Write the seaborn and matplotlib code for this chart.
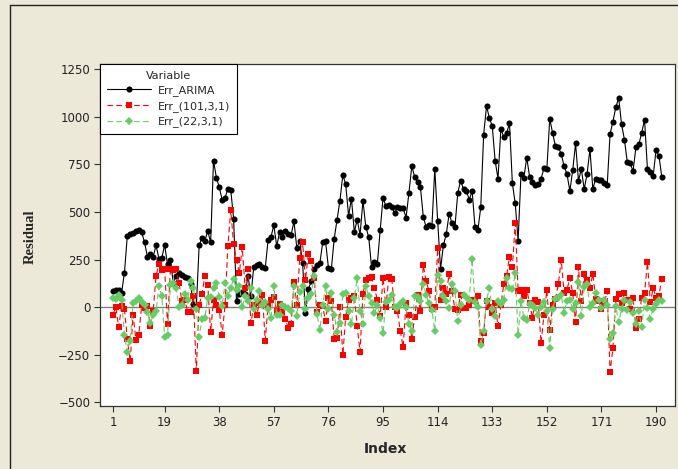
import numpy as np
import pandas as pd
import matplotlib
matplotlib.use("Agg")
import matplotlib.pyplot as plt
from matplotlib.lines import Line2D
import seaborn as sns

# residual series, index 1..192
err_arima = [
    85, 90, 90, 75, 180, 375, 385, 390, 400, 405, 395, 340, 265, 280, 265, 325,
    255, 260, 325, 225, 250, 125, 165, 180, 170, 160, 155, 120, 15, -5, 325, 365,
    350, 400, 340, 770, 680, 630, 565, 575, 620, 615, 465, 35, 70, 80, 70, 165,
    60, 210, 220, 225, 210, 205, 355, 370, 430, 320, 395, 370, 400, 385, 380, 450,
    310, 350, 230, -30, 95, 135, 200, 220, 230, 340, 345, 205, 200, 360, 460, 560,
    695, 645, 480, 570, 395, 460, 380, 560, 420, 370, 210, 235, 225, 405, 575, 530,
    535, 525, 495, 525, 520, 520, 470, 600, 740, 685, 660, 630, 475, 420, 430, 425,
    725, 455, 200, 325, 385, 490, 440, 420, 600, 665, 620, 610, 565, 610, 420, 405,
    525, 905, 1055, 995, 950, 770, 675, 935, 895, 915, 965, 650, 545, 350, 700, 680,
    785, 685, 655, 640, 645, 675, 730, 725, 990, 915, 845, 840, 805, 740, 700, 610,
    720, 860, 665, 725, 620, 700, 830, 620, 675, 670, 670, 650, 640, 910, 975, 1050,
    1100, 960, 880, 760, 755, 715, 840, 855, 915, 985, 725, 710, 690, 825, 795, 685,
]
err_101 = [
    -40, 0, -105, 5, -10, -165, -285, -40, -170, -145, 10, -5, 5, -100, -20, 165,
    225, 195, 200, -90, 200, 195, 200, 125, 30, 40, -25, -25, 60, -335, 10, 70,
    165, 115, -130, 40, 10, -15, -145, 10, 320, 510, 330, 250, 180, 315, 100, 200,
    -85, 10, -40, 20, 65, -175, 10, 40, 55, -20, 15, -25, -60, -110, -90, 130,
    10, 260, 340, 145, 280, 245, 155, -25, 10, 5, -75, 50, 30, -165, -160, 0,
    -250, -50, 40, 50, 60, -100, -235, 70, 145, 155, 160, 100, 40, -45, 155, 0,
    160, 150, 0, -20, -125, -210, 20, -40, -165, -50, 65, -20, 220, 135, 85, -10,
    0, 310, 40, 100, 70, 175, 85, -10, -15, 65, -5, -5, 10, 40, 30, 60,
    -180, -135, 30, 0, -30, 20, -100, 10, 120, 165, 265, 210, 440, 85, 90, 60,
    90, 20, -55, 40, 25, -190, -40, 90, -120, 10, 45, 120, 250, 75, 90, 155,
    75, -80, 210, 30, 175, 145, 100, 175, 45, 35, -10, 20, 85, -340, -215, 45,
    70, 20, 75, 40, -10, 50, -110, -60, 50, 75, 235, 25, 100, 50, 60, 150,
]
err_22 = [
    50, 45, 65, 40, -145, -235, -175, 20, 35, 50, 25, 10, -25, -85, -40, -20,
    110, 60, -155, -145, 115, 125, 100, 0, 10, 70, 40, 140, 100, -10, -155, -60,
    -55, 50, 55, 100, 125, 55, 5, 125, 60, 100, 150, 90, 110, 0, 60, 30,
    100, -10, 40, 85, 10, 25, -10, -55, 110, -40, -40, 10, 0, -5, -20, 110,
    -45, 80, 110, -10, 50, 70, 165, -35, -120, 10, 110, -10, 75, -40, -130, -85,
    70, 75, -20, -90, 50, 155, -20, -90, 110, 60, 20, -30, 10, -55, -135, 25,
    40, 65, 0, -5, 15, 30, 0, -90, -125, 60, 55, 30, 120, 65, 20, -15,
    -125, 170, 135, 60, 35, -5, 120, 85, -75, 10, 65, 55, 40, 255, 25, 0,
    -200, -125, 35, 100, -10, -45, 30, 15, 40, 155, 100, 95, 180, -145, 35, -55,
    -65, 15, 10, -5, -40, 0, 25, -20, -215, -10, 45, 50, 65, -30, 35, 40,
    -10, 20, 130, -45, 105, 120, 0, 20, 75, 40, -5, 40, 10, -165, -135, 5,
    -80, -10, 40, -15, 25, -30, -90, -20, -105, 40, -5, -60, -10, 15, 40, 30,
]
x_ticks = [1, 19, 38, 57, 76, 95, 114, 133, 152, 171, 190]
y_ticks = [-500, -250, 0, 250, 500, 750, 1000, 1250]

index = np.arange(1, len(err_arima) + 1)

sns.set_style("white")
plt.rcParams['font.family'] = ['DejaVu Sans']

bg = '#ECE9D8'
fig = plt.figure(figsize=(6.78, 4.69), dpi=100, facecolor=bg)
ax = fig.add_axes([0.1475, 0.1343, 0.8481, 0.7292])
ax.set_facecolor('white')

# zero reference line
ax.axhline(0, color='#808080', lw=1.0, zorder=1)

sns.lineplot(x=index, y=err_arima, ax=ax, color='black', lw=0.8,
             marker='o', markersize=4.4, markeredgewidth=0,
             label='Err_ARIMA', zorder=3)
sns.lineplot(x=index, y=err_101, ax=ax, color='#FF0000', lw=0.8,
             linestyle=(0, (5, 3)), marker='s', markersize=3.8,
             markeredgewidth=0, label='Err_(101,3,1)', zorder=4)
sns.lineplot(x=index, y=err_22, ax=ax, color='#66CC66', lw=0.8,
             linestyle=(0, (5, 3)), marker='D', markersize=4.0,
             markeredgewidth=0, label='Err_(22,3,1)', zorder=5)

ax.set_xlim(-3.5, 196.6)
ax.set_ylim(-519, 1277)
ax.set_xticks(x_ticks)
ax.set_yticks(y_ticks)
ax.tick_params(axis='both', direction='out', length=4, width=0.8,
               color='#333333', labelsize=8.5, labelcolor='#222222',
               left=True, bottom=True, pad=3)

for side in ['top', 'right', 'left', 'bottom']:
    ax.spines[side].set_color('#333333')
    ax.spines[side].set_linewidth(0.9)

ax.set_ylabel('Residual', family=['Liberation Serif'], fontweight='bold',
              fontsize=10.5)
ax.set_xlabel('Index', fontweight='bold', fontsize=10)
ax.yaxis.set_label_coords(-0.11, 0.494)
ax.xaxis.set_label_coords(0.496, -0.105)

leg = ax.legend(loc='upper left', bbox_to_anchor=(0, 1), borderaxespad=0,
                title='Variable', fontsize=8, title_fontsize=8,
                frameon=True, fancybox=False, edgecolor='black',
                handlelength=4.0, handletextpad=0.6, labelspacing=0.42,
                borderpad=0.6)
leg.get_frame().set_linewidth(0.8)
leg.get_frame().set_alpha(1)

# outer frame of the graph window
fig.add_artist(Line2D([10 / 678, 10 / 678], [0, 1 - 5 / 469],
                      color='#222222', lw=1.0))
fig.add_artist(Line2D([10 / 678, 1], [1 - 5 / 469, 1 - 5 / 469],
                      color='#222222', lw=1.0))

fig.savefig('out.png', dpi=100, facecolor=bg)
